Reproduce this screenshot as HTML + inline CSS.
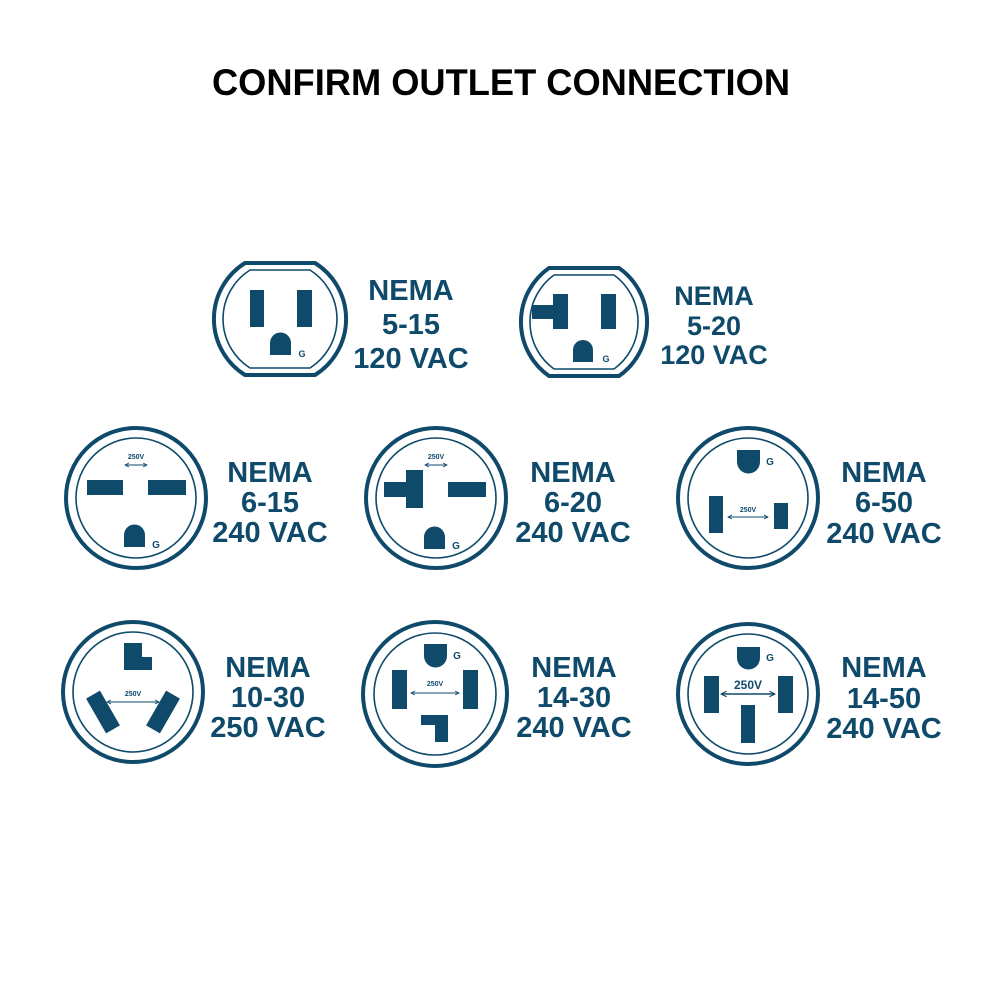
<!DOCTYPE html>
<html><head><meta charset="utf-8"><style>
html,body{margin:0;padding:0;background:#fff;}
svg{display:block;}
.t{font-family:"Liberation Sans",sans-serif;font-weight:bold;fill:#0f4a6b;text-anchor:middle;}
.s{font-family:"Liberation Sans",sans-serif;fill:#0f4a6b;text-anchor:middle;}
</style></head><body>
<svg width="1000" height="1000" viewBox="0 0 1000 1000" xmlns="http://www.w3.org/2000/svg">
<defs>
<marker id="ah" viewBox="0 0 10 10" refX="9" refY="5" markerWidth="5" markerHeight="5" orient="auto-start-reverse"><path d="M1 1 L9 5 L1 9" fill="none" stroke="#0f4a6b" stroke-width="1.6"/></marker>
</defs>
<text x="501" y="95" font-family="Liberation Sans,sans-serif" font-weight="bold" font-size="37" text-anchor="middle" textLength="578" lengthAdjust="spacingAndGlyphs" fill="#000">CONFIRM OUTLET CONNECTION</text>

<g fill="#0f4a6b">
<!-- 5-15 -->
<g transform="translate(280,319)">
<path d="M-35 -56 L35 -56 A66 66 0 0 1 35 56 L-35 56 A66 66 0 0 1 -35 -56 Z" fill="none" stroke="#0f4a6b" stroke-width="4"/>
<path d="M-30 -49 L30 -49 A58 58 0 0 1 30 49 L-30 49 A58 58 0 0 1 -30 -49 Z" fill="none" stroke="#0f4a6b" stroke-width="1.6"/>
<rect x="-30" y="-29" width="14" height="37"/><rect x="17" y="-29" width="15" height="37"/>
<path d="M-10 36 L-10 24 A10.5 10.5 0 0 1 11 24 L11 36 Z"/>
<text class="s" x="22" y="38" font-size="9" font-weight="bold">G</text>
</g>
<!-- 5-20 -->
<g transform="translate(584,322)">
<path d="M-35 -54 L35 -54 A66 66 0 0 1 35 54 L-35 54 A66 66 0 0 1 -35 -54 Z" fill="none" stroke="#0f4a6b" stroke-width="4"/>
<path d="M-30 -47 L30 -47 A58 58 0 0 1 30 47 L-30 47 A58 58 0 0 1 -30 -47 Z" fill="none" stroke="#0f4a6b" stroke-width="1.6"/>
<rect x="-52" y="-17" width="36" height="14"/><rect x="-31" y="-28" width="15" height="35"/>
<rect x="17" y="-28" width="15" height="35"/>
<path d="M-11 40 L-11 28 A10 10 0 0 1 9 28 L9 40 Z"/>
<text class="s" x="22" y="40" font-size="9" font-weight="bold">G</text>
</g>

<!-- 6-15 -->
<g transform="translate(136,498)">
<circle r="70" fill="none" stroke="#0f4a6b" stroke-width="4"/><circle r="60" fill="none" stroke="#0f4a6b" stroke-width="1.6"/>
<rect x="-49" y="-18" width="36" height="15"/><rect x="12" y="-18" width="38" height="15"/>
<path d="M-12 49 L-12 37 A10.5 10.5 0 0 1 9 37 L9 49 Z"/>
<text class="s" x="20" y="50" font-size="10" font-weight="bold">G</text>
<text class="s" x="0" y="-39" font-size="7" font-weight="bold">250V</text>
<line x1="-11" y1="-33" x2="11" y2="-33" stroke="#0f4a6b" stroke-width="1" marker-start="url(#ah)" marker-end="url(#ah)"/>
</g>
<!-- 6-20 -->
<g transform="translate(436,498)">
<circle r="70" fill="none" stroke="#0f4a6b" stroke-width="4"/><circle r="60" fill="none" stroke="#0f4a6b" stroke-width="1.6"/>
<rect x="-52" y="-16" width="39" height="15"/><rect x="-30" y="-28" width="17" height="38"/>
<rect x="12" y="-16" width="38" height="15"/>
<path d="M-12 51 L-12 39 A10.5 10.5 0 0 1 9 39 L9 51 Z"/>
<text class="s" x="20" y="51" font-size="10" font-weight="bold">G</text>
<text class="s" x="0" y="-39" font-size="7" font-weight="bold">250V</text>
<line x1="-11" y1="-33" x2="11" y2="-33" stroke="#0f4a6b" stroke-width="1" marker-start="url(#ah)" marker-end="url(#ah)"/>
</g>
<!-- 6-50 -->
<g transform="translate(748,498)">
<circle r="70" fill="none" stroke="#0f4a6b" stroke-width="4"/><circle r="60" fill="none" stroke="#0f4a6b" stroke-width="1.6"/>
<path d="M-11 -48 L12 -48 L12 -36 A11.5 11.5 0 0 1 -11 -36 Z"/>
<text class="s" x="22" y="-33" font-size="10" font-weight="bold">G</text>
<rect x="-39" y="-2" width="14" height="37"/><rect x="26" y="5" width="14" height="26"/>
<text class="s" x="0" y="14" font-size="7" font-weight="bold">250V</text>
<line x1="-20" y1="19" x2="20" y2="19" stroke="#0f4a6b" stroke-width="1" marker-start="url(#ah)" marker-end="url(#ah)"/>
</g>

<!-- 10-30 -->
<g transform="translate(133,692)">
<circle r="70" fill="none" stroke="#0f4a6b" stroke-width="4"/><circle r="60" fill="none" stroke="#0f4a6b" stroke-width="1.6"/>
<path d="M-9 -49 L9 -49 L9 -35 L19 -35 L19 -22 L-9 -22 Z"/>
<rect x="-8" y="-20" width="16" height="40" transform="translate(-30,20) rotate(-30)"/>
<rect x="-8" y="-20" width="16" height="40" transform="translate(30,20) rotate(30)"/>
<text class="s" x="0" y="4" font-size="7" font-weight="bold">250V</text>
<line x1="-26" y1="10" x2="26" y2="10" stroke="#0f4a6b" stroke-width="1" marker-start="url(#ah)" marker-end="url(#ah)"/>
</g>
<!-- 14-30 -->
<g transform="translate(435,694)">
<circle r="72" fill="none" stroke="#0f4a6b" stroke-width="4"/><circle r="61" fill="none" stroke="#0f4a6b" stroke-width="1.6"/>
<path d="M-11 -50 L12 -50 L12 -38 A11.5 11.5 0 0 1 -11 -38 Z"/>
<text class="s" x="22" y="-35" font-size="10" font-weight="bold">G</text>
<rect x="-43" y="-24" width="15" height="39"/><rect x="28" y="-24" width="15" height="39"/>
<text class="s" x="0" y="-8" font-size="7" font-weight="bold">250V</text>
<line x1="-24" y1="-1" x2="24" y2="-1" stroke="#0f4a6b" stroke-width="1" marker-start="url(#ah)" marker-end="url(#ah)"/>
<path d="M-14 21 L13 21 L13 48 L0 48 L0 31 L-14 31 Z"/>
</g>
<!-- 14-50 -->
<g transform="translate(748,694)">
<circle r="70" fill="none" stroke="#0f4a6b" stroke-width="4"/><circle r="60" fill="none" stroke="#0f4a6b" stroke-width="1.6"/>
<path d="M-11 -47 L12 -47 L12 -36 A11.5 11.5 0 0 1 -11 -36 Z"/>
<text class="s" x="22" y="-33" font-size="10" font-weight="bold">G</text>
<rect x="-44" y="-18" width="15" height="37"/><rect x="30" y="-18" width="15" height="37"/>
<rect x="-7" y="11" width="14" height="38"/>
<text class="s" x="0" y="-5" font-size="12" font-weight="bold">250V</text>
<line x1="-27" y1="0" x2="27" y2="0" stroke="#0f4a6b" stroke-width="1.4" marker-start="url(#ah)" marker-end="url(#ah)"/>
</g>
</g>

<g class="t" font-size="29">
<text class="t" x="411" y="300">NEMA</text><text class="t" x="411" y="334">5-15</text><text class="t" x="411" y="368">120 VAC</text>
<text class="t" x="714" y="305" font-size="27">NEMA</text><text class="t" x="714" y="335" font-size="27">5-20</text><text class="t" x="714" y="364" font-size="27">120 VAC</text>
<text class="t" x="270" y="482">NEMA</text><text class="t" x="270" y="512">6-15</text><text class="t" x="270" y="542">240 VAC</text>
<text class="t" x="573" y="482">NEMA</text><text class="t" x="573" y="512">6-20</text><text class="t" x="573" y="542">240 VAC</text>
<text class="t" x="884" y="482">NEMA</text><text class="t" x="884" y="512">6-50</text><text class="t" x="884" y="543">240 VAC</text>
<text class="t" x="268" y="677">NEMA</text><text class="t" x="268" y="707">10-30</text><text class="t" x="268" y="737">250 VAC</text>
<text class="t" x="574" y="677">NEMA</text><text class="t" x="574" y="707">14-30</text><text class="t" x="574" y="737">240 VAC</text>
<text class="t" x="884" y="677">NEMA</text><text class="t" x="884" y="708">14-50</text><text class="t" x="884" y="738">240 VAC</text>
</g>
</svg>
</body></html>
